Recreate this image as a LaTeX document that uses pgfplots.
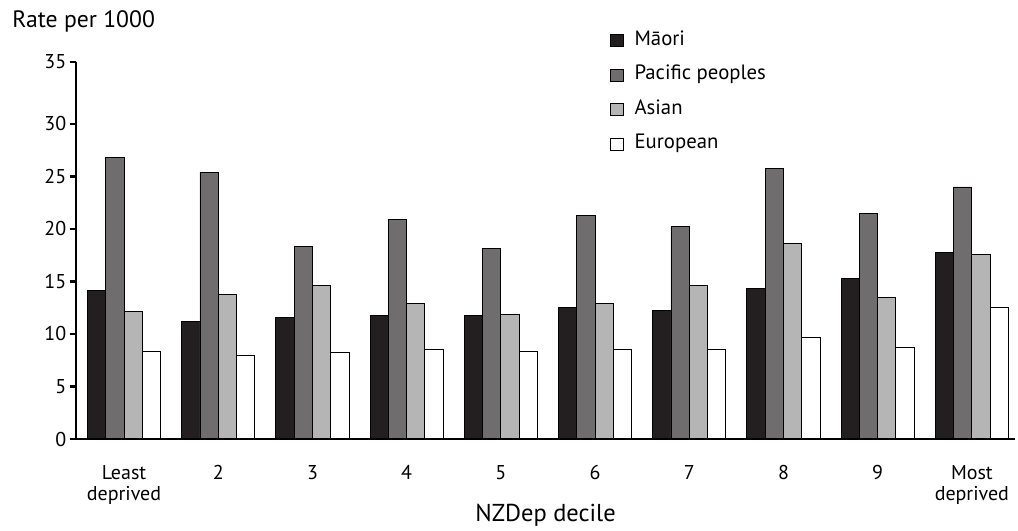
\documentclass[border=0pt]{standalone}
\usepackage{fontspec}
\setmainfont{PT Sans}
\usepackage{pgfplots}
\pgfplotsset{compat=1.18}
\definecolor{maori}{HTML}{231F20}
\definecolor{pacific}{HTML}{6F6D6E}
\definecolor{asian}{HTML}{B5B5B5}
\begin{document}
\begin{tikzpicture}
\path[use as bounding box] (-41.04pt,-49.68pt) rectangle (508.68pt,237.06pt);
\begin{axis}[
  at={(0pt,0pt)}, anchor=south west,
  x=50.87pt, y=5.67pt,
  xmin=-0.51, xmax=9.46, ymin=0, ymax=35.9,
  axis lines=left,
  axis line style={line width=1.1pt, -},
  axis on top,
  clip=false,
  ybar=0pt, bar width=0.194,
  tick align=outside, major tick length=3.5pt,
  xtick={0,...,9},
  xticklabels={{Least\\deprived},2,3,4,5,6,7,8,9,{Most\\deprived}},
  xtick style={draw=none},
  ytick={0,5,10,15,20,25,30,35.9},
  yticklabels={0,5,10,15,20,25,30,35},
  ytick style={line width=1.1pt, black},
  xticklabel style={align=center, anchor=north, inner sep=0pt, yshift=-10.5pt,
    font=\fontsize{10.8}{11.6}\selectfont},
  yticklabel style={inner sep=1.6pt, font=\fontsize{10.8}{12}\selectfont},
  xlabel={NZDep decile},
  xlabel style={at={(axis description cs:0.5,0)}, anchor=base, yshift=-44.8pt,
    inner sep=0pt, font=\fontsize{13.2}{15}\selectfont},
  ylabel={Rate per 1000},
  ylabel style={rotate=-90, at={(axis description cs:-0.0682,1.0928)}, anchor=base west,
    inner sep=0pt, font=\fontsize{12.8}{14}\selectfont},
  legend cell align=left,
  legend image code/.code={\draw[#1, draw=black, line width=0.5pt] (0pt,-3.25pt) rectangle (6.5pt,3.25pt);},
  legend style={at={(axis description cs:0.5687,1.0816)}, anchor=north west,
    draw=none, fill=none, inner sep=0pt, row sep=8.6pt,
    font=\fontsize{11.2}{13}\selectfont,
    nodes={inner sep=0pt, text height=7.5pt, text depth=2.5pt},
    /tikz/every odd column/.append style={column sep=6pt}},
]
\addplot[fill=maori, draw=black, line width=0.5pt] coordinates {
  (0,14.1) (1,11.2) (2,11.55) (3,11.8) (4,11.8) (5,12.55) (6,12.2) (7,14.35) (8,15.25) (9,17.8)};
\addplot[fill=pacific, draw=black, line width=0.5pt] coordinates {
  (0,26.8) (1,25.4) (2,18.3) (3,20.9) (4,18.1) (5,21.3) (6,20.2) (7,25.8) (8,21.5) (9,24.0)};
\addplot[fill=asian, draw=black, line width=0.5pt] coordinates {
  (0,12.1) (1,13.75) (2,14.6) (3,12.9) (4,11.9) (5,12.9) (6,14.6) (7,18.6) (8,13.5) (9,17.6)};
\addplot[fill=white, draw=black, line width=0.5pt] coordinates {
  (0,8.35) (1,7.95) (2,8.2) (3,8.5) (4,8.3) (5,8.5) (6,8.5) (7,9.65) (8,8.7) (9,12.5)};
\legend{Māori, Pacific peoples, Asian, European}
\end{axis}
\end{tikzpicture}
\end{document}
